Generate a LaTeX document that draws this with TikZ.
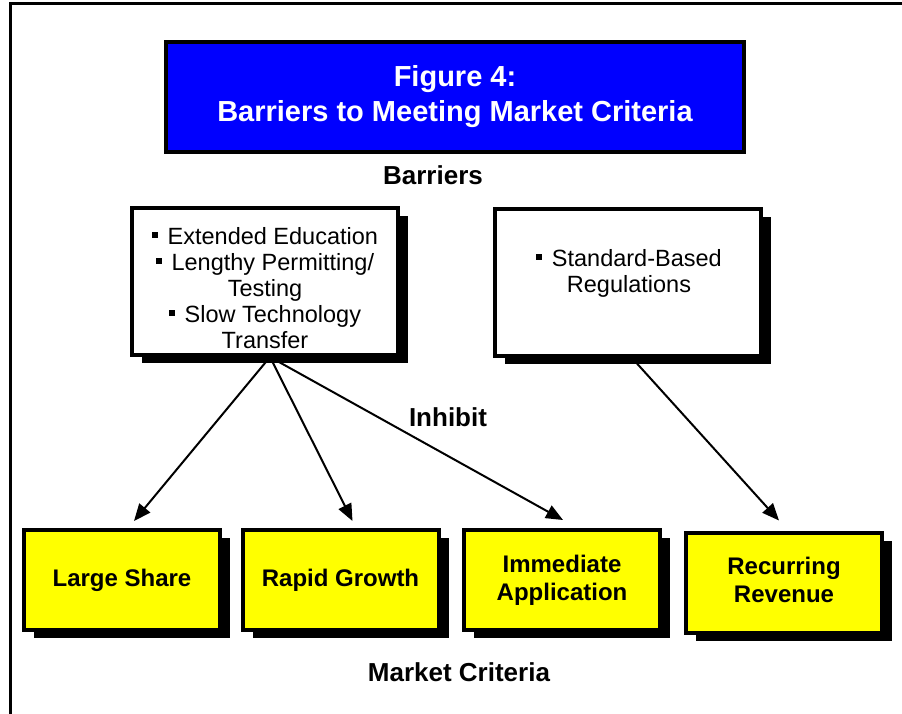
\documentclass[tikz,border=0pt]{standalone}
\usepackage{fontspec}
\setmainfont{Liberation Sans}
\usetikzlibrary{arrows.meta,calc,shadows}
\definecolor{titleblue}{RGB}{0,0,255}
\definecolor{crityellow}{RGB}{255,255,0}
\newcommand{\sqbullet}{\rule[6.5pt]{5.7pt}{5.7pt}\hspace{10pt}}

\begin{document}
\begin{tikzpicture}[x=1pt,y=-1pt]
        \tikzstyle{every node}=[inner sep=0pt, align=center]
        \tikzstyle{boxshadow}=[drop shadow={shadow xshift=10pt, shadow yshift=-8pt, fill=black, opacity=1}]
        \tikzstyle{titlebox}=[draw, line width=4pt, fill=titleblue, minimum width=578pt, minimum height=110pt, text=white, font=\bfseries\fontsize{29}{35}\selectfont]
        \tikzstyle{barrierbox}=[draw, line width=4pt, fill=white, boxshadow, minimum width=266pt, minimum height=147pt]
        \tikzstyle{bodytext}=[font=\fontsize{23.5}{26}\selectfont]
        \tikzstyle{critbox}=[draw, line width=4pt, fill=crityellow, boxshadow, minimum width=196pt, minimum height=100pt, text depth=5pt, font=\bfseries\fontsize{24}{28.3}\selectfont]
        \tikzstyle{caption}=[anchor=base, font=\bfseries\fontsize{26}{30}\selectfont]
        \tikzstyle{inhib}=[line width=2pt, -{Triangle[length=17pt,width=14pt]}]
        \useasboundingbox (0,0) rectangle (902,714);
        \draw[line width=3pt] (10.5,714) |- (902,4);
        % title and barriers
        \node[titlebox] (title) at (455,97) {Figure 4:\\Barriers to Meeting Market Criteria};
        \node[caption] (barlabel) at (433,185) {Barriers};
        \node[barrierbox] (lbox) at (265,281.5) {};
        \node[barrierbox] (rbox) at (628,282.5) {};
        \node[bodytext] (ltext) at ($(lbox.center)+(0,6.5)$) {\sqbullet Extended Education\\ \sqbullet Lengthy Permitting/\\ Testing\\ \sqbullet Slow Technology\\ Transfer};
        \node[bodytext] (rtext) at ($(rbox.center)+(1,-9)$) {\sqbullet Standard-Based\\ Regulations};
        % market criteria
        \node[critbox] (ls) at (122,580) {Large Share};
        \node[critbox] (rg) at (340.5,580) {Rapid Growth};
        \node[critbox] (ia) at (562,580) {Immediate\\Application};
        \node[critbox] (rr) at (784,582.5) {Recurring\\Revenue};
        \node[caption] (inhlabel) at (448,426) {Inhibit};
        \node[caption] (mclabel) at (459,681.7) {Market Criteria};
        \coordinate (lfoot) at ($(lbox.south)+(5,0)$);
        \coordinate (rfoot) at ($(rbox.south)+(4,0)$);
        \draw[inhib] (lfoot) -- ($(ls.north)+(12,-7)$);
        \draw[inhib] (lfoot) -- ($(rg.north)+(12,-7)$);
        \draw[inhib] (lfoot) -- ($(ia.north)+(1,-8)$);
        \draw[inhib] (rfoot) -- ($(rr.north)+(-5,-10)$);
\end{tikzpicture}
\end{document}
